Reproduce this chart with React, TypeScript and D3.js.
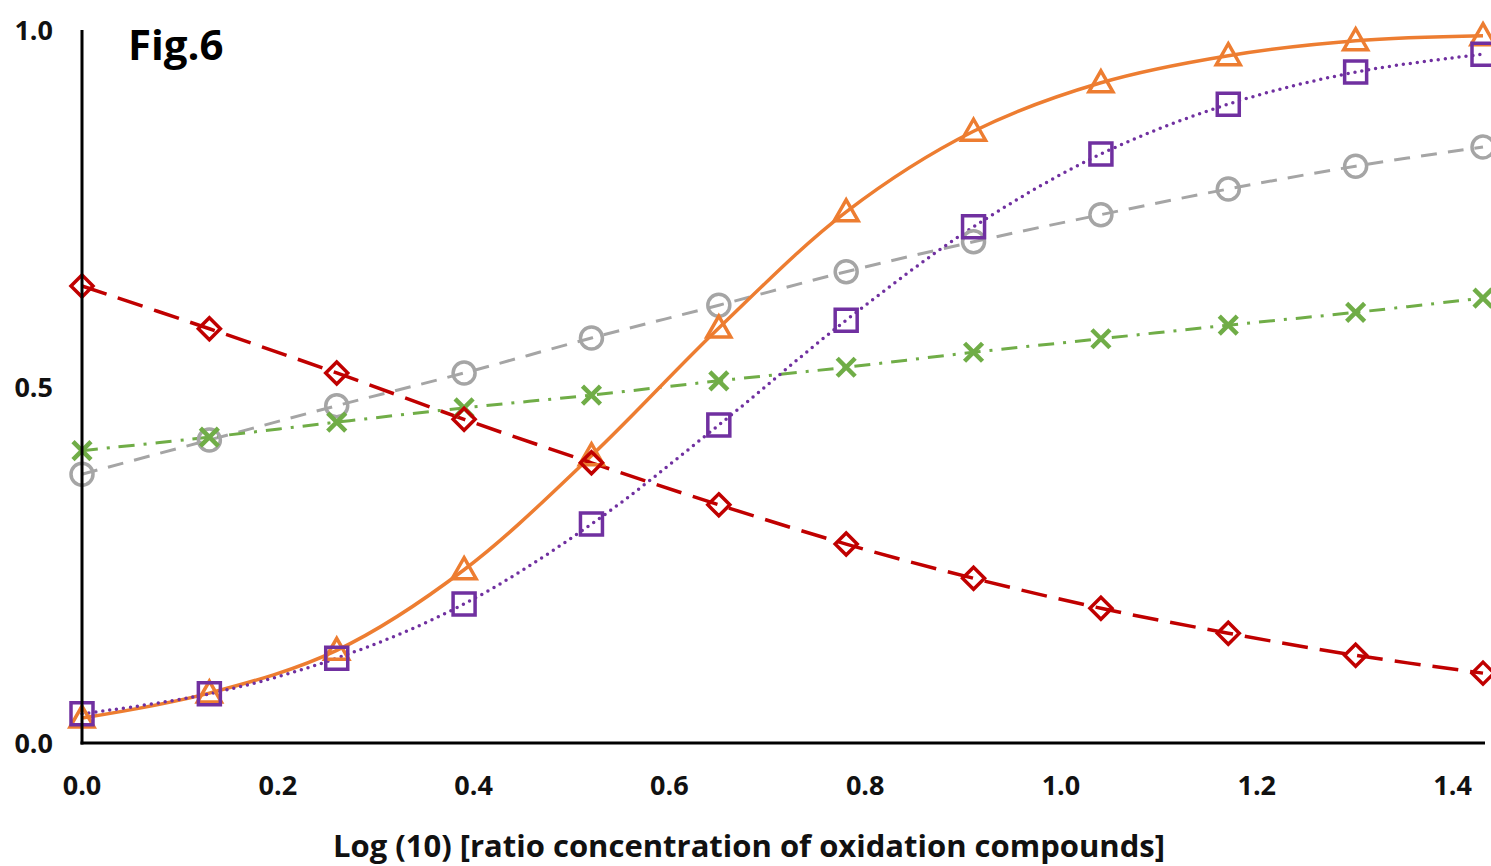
import React from 'react';
import * as d3 from 'd3';

// x positions: log10 ratio steps
const xValues = [0, 0.1301, 0.2602, 0.3903, 0.5204, 0.6505, 0.7806, 0.9107, 1.0408, 1.1709, 1.301, 1.4311];

const orangeTri = [0.035, 0.07, 0.13, 0.243, 0.403, 0.582, 0.745, 0.858, 0.926, 0.964, 0.985, 0.992];
const purpleSq = [0.041, 0.069, 0.119, 0.195, 0.307, 0.446, 0.593, 0.724, 0.826, 0.896, 0.941, 0.966];
const greyCirc = [0.377, 0.425, 0.473, 0.519, 0.568, 0.614, 0.661, 0.703, 0.741, 0.777, 0.809, 0.836];
const greenX = [0.41, 0.429, 0.45, 0.47, 0.488, 0.508, 0.527, 0.548, 0.567, 0.586, 0.604, 0.624];
const redDia = [0.641, 0.581, 0.519, 0.454, 0.393, 0.334, 0.279, 0.231, 0.189, 0.154, 0.123, 0.098];

const xTicks = [0, 0.2, 0.4, 0.6, 0.8, 1.0, 1.2, 1.4];
const yTicks = [0, 0.5, 1.0];

const W = 1491;
const H = 866;
const FONT = '"Open Sans", "Noto Sans", sans-serif';

type Marker = 'tri' | 'sq' | 'circ' | 'x' | 'dia';

interface Series {
  name: string;
  values: number[];
  color: string;
  dash: string;
  width: number;
  cap: 'butt' | 'round';
  marker: Marker;
}

const series: Series[] = [
  { name: 'grey', values: greyCirc, color: '#A5A5A5', dash: '16,11', width: 3, cap: 'butt', marker: 'circ' },
  { name: 'green', values: greenX, color: '#70AD47', dash: '16,9,3,9', width: 3, cap: 'butt', marker: 'x' },
  { name: 'orange', values: orangeTri, color: '#ED7D31', dash: '', width: 3.5, cap: 'butt', marker: 'tri' },
  { name: 'purple', values: purpleSq, color: '#7030A0', dash: '0,7', width: 3.5, cap: 'round', marker: 'sq' },
  { name: 'red', values: redDia, color: '#C00000', dash: '26,12', width: 3.5, cap: 'butt', marker: 'dia' },
];

const x = d3.scaleLinear().domain([0, 1.4311]).range([82, 1483]);
const y = d3.scaleLinear().domain([0, 1]).range([743, 30]);

const line = d3
  .line<number>()
  .x((_, i) => x(xValues[i]))
  .y((d) => y(d))
  .curve(d3.curveCatmullRom.alpha(0.5));

function markerPath(m: Marker): string {
  switch (m) {
    case 'tri':
      return 'M0,-12 L12,9 L-12,9 Z';
    case 'sq':
      return 'M-11,-11 H11 V11 H-11 Z';
    case 'dia':
      return 'M0,-11 L11,0 L0,11 L-11,0 Z';
    case 'x':
      return 'M-9,-9 L9,9 M9,-9 L-9,9';
    default:
      return '';
  }
}

export default function App() {
  return (
    <svg
      width={W}
      height={H}
      style={{ position: 'absolute', left: 0, top: 0, background: '#fff' }}
    >
      <rect x={0} y={0} width={W} height={H} fill="#fff" />

      {series.map((s) => (
        <path
          key={s.name + '-line'}
          d={line(s.values) || ''}
          fill="none"
          stroke={s.color}
          strokeWidth={s.width}
          strokeDasharray={s.dash || undefined}
          strokeLinecap={s.cap}
        />
      ))}

      {series.map((s) =>
        s.values.map((v, i) =>
          s.marker === 'circ' ? (
            <circle
              key={s.name + i}
              cx={x(xValues[i])}
              cy={y(v)}
              r={11}
              fill="none"
              stroke={s.color}
              strokeWidth={3.5}
            />
          ) : (
            <path
              key={s.name + i}
              transform={`translate(${x(xValues[i])},${y(v)})`}
              d={markerPath(s.marker)}
              fill="none"
              stroke={s.color}
              strokeWidth={s.marker === 'x' ? 4.5 : 3.5}
            />
          )
        )
      )}

      {/* axes */}
      <line x1={82} x2={82} y1={30} y2={744.5} stroke="#000" strokeWidth={3} />
      <line x1={80.5} x2={1485} y1={743} y2={743} stroke="#000" strokeWidth={3} />

      {xTicks.map((t) => (
        <text
          key={'xt' + t}
          x={x(t)}
          y={795}
          textAnchor="middle"
          fontFamily={FONT}
          fontWeight={700}
          fontSize={27}
          fill="#111"
        >
          {t.toFixed(1)}
        </text>
      ))}

      {yTicks.map((t) => (
        <text
          key={'yt' + t}
          x={53}
          y={y(t) + 10}
          textAnchor="end"
          fontFamily={FONT}
          fontWeight={700}
          fontSize={27}
          fill="#111"
        >
          {t.toFixed(1)}
        </text>
      ))}

      <text x={128} y={60} fontFamily={FONT} fontWeight={700} fontSize={42} fill="#000">
        Fig.6
      </text>

      <text
        x={749}
        y={857}
        textAnchor="middle"
        fontFamily={FONT}
        fontWeight={700}
        fontSize={31}
        fill="#111"
      >
        Log (10) [ratio concentration of oxidation compounds]
      </text>
    </svg>
  );
}
